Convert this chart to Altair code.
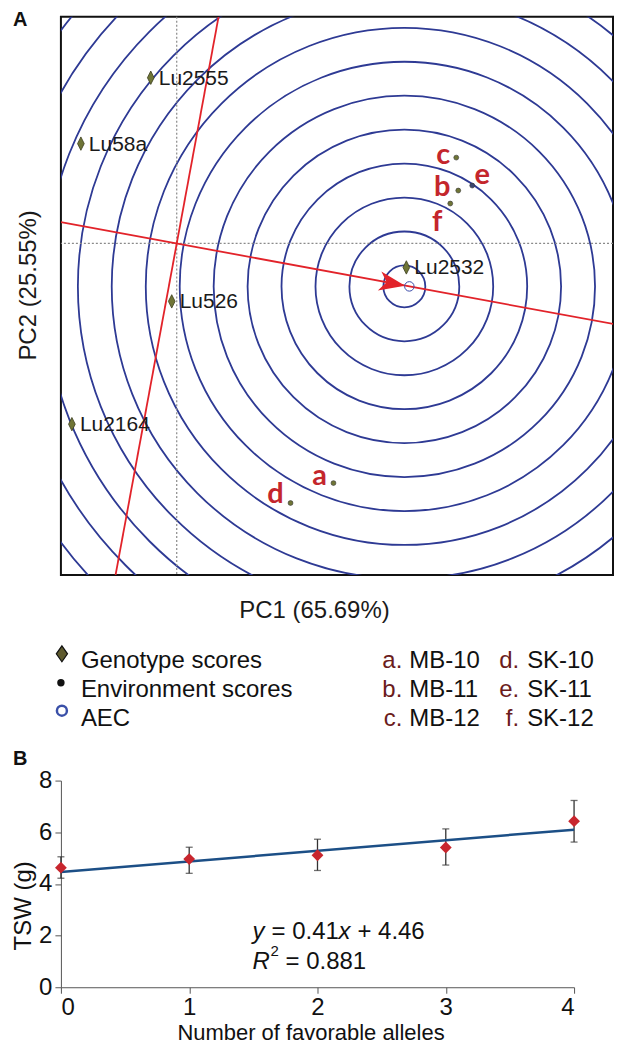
import altair as alt
import pandas as pd

# ---------------- Panel A : GGE biplot ----------------
geno_names = ["Lu2555", "Lu58a", "Lu526", "Lu2164", "Lu2532"]
geno_pc1 = [-0.26, -0.96, -0.05, -1.05, 2.30]
geno_pc2 = [1.66, 1.00, -0.58, -1.81, -0.24]

env_codes = ["a", "b", "c", "d", "e", "f"]
env_names = ["MB-10", "MB-11", "MB-12", "SK-10", "SK-11", "SK-12"]
env_pc1 = [1.57, 2.82, 2.80, 1.14, 2.96, 2.74]
env_pc2 = [-2.40, 0.53, 0.86, -2.60, 0.58, 0.40]

ring_center_pc1 = [2.28]
ring_center_pc2 = [-0.43]
ring_radii = [0.21, 0.55, 0.89, 1.23, 1.57, 1.91, 2.25, 2.59, 2.93, 3.27, 3.61, 3.95, 4.29]

aec_pc1 = [2.33]
aec_pc2 = [-0.43]
arrow_pc1 = [2.16]
arrow_pc2 = [-0.40]

axis_line_x1 = [-1.16, 0.419]
axis_line_y1 = [0.214, 2.27]
axis_line_x2 = [4.45, -0.6125]
axis_line_y2 = [-0.821, -3.32]

legend_left = ["Genotype scores", "Environment scores", "AEC"]
x_title_a = "PC1 (65.69%)"
y_title_a = "PC2 (25.55%)"

# ---------------- Panel B ----------------
alleles = [0, 1, 2, 3, 4]
tsw_mean = [4.63, 4.96, 5.11, 5.41, 6.43]
tsw_low = [4.22, 4.41, 4.52, 4.73, 5.62]
tsw_high = [5.05, 5.42, 5.73, 6.13, 7.23]
fit_x = [0, 4]
fit_y = [4.46, 6.10]

# ---------------- styles ----------------
RING = "#2e3a94"
RED = "#e2232a"
OLIVE = "#6f7536"
LETTER = "#c4262c"
MAROON = "#6b1c1c"
FONT = "Liberation Sans"

W_A, H_A = 553, 559
xs = alt.Scale(domain=[-1.16, 4.37], nice=False, zero=False)
ys = alt.Scale(domain=[-3.32, 2.27], nice=False, zero=False)


def XA(f):
    return alt.X(f, type="quantitative", scale=xs, axis=None)


def YA(f):
    return alt.Y(f, type="quantitative", scale=ys, axis=None)


ONE = alt.Data(values=[{"k": 0}])


def txt(s, x, y, **kw):
    return alt.Chart(ONE).mark_text(text=s, **kw).encode(x=alt.value(x), y=alt.value(y))


def sym(x, y, **kw):
    return alt.Chart(ONE).mark_point(**kw).encode(x=alt.value(x), y=alt.value(y))


rings_df = pd.DataFrame({"cx": ring_center_pc1 * len(ring_radii),
                         "cy": ring_center_pc2 * len(ring_radii),
                         "r": ring_radii})
rings = alt.Chart(rings_df).mark_arc(
    theta=0, theta2=6.2832, fillOpacity=0, stroke=RING, strokeWidth=1.8, clip=True
).encode(
    x=XA("cx"), y=YA("cy"),
    radius=alt.Radius("r:Q", stack=None,
                      scale=alt.Scale(type="linear", domain=[0, 1], range=[0, 100])),
)

dot_v = alt.Chart(pd.DataFrame({"v": [0]})).mark_rule(
    color="#8a8a8a", strokeDash=[2, 2], strokeWidth=1.2).encode(x=XA("v"))
dot_h = alt.Chart(pd.DataFrame({"v": [0]})).mark_rule(
    color="#8a8a8a", strokeDash=[2, 2], strokeWidth=1.2).encode(y=YA("v"))

lines_df = pd.DataFrame({"x": axis_line_x1, "y": axis_line_y1,
                         "x2": axis_line_x2, "y2": axis_line_y2})
red_lines = alt.Chart(lines_df).mark_rule(color=RED, strokeWidth=1.8, clip=True).encode(
    x=XA("x"), y=YA("y"), x2="x2:Q", y2="y2:Q")

arrow = alt.Chart(pd.DataFrame({"x": arrow_pc1, "y": arrow_pc2})).mark_point(
    shape="M1,0L-1,-0.75L-0.45,0L-1,0.75Z", size=676, filled=True, color=RED,
    opacity=1, angle=10.5).encode(x=XA("x"), y=YA("y"))

aec = alt.Chart(pd.DataFrame({"x": aec_pc1, "y": aec_pc2})).mark_point(
    shape="circle", size=90, filled=False, color="#3a4aa8", strokeWidth=1, opacity=1
).encode(x=XA("x"), y=YA("y"))

geno_df = pd.DataFrame({"name": geno_names, "pc1": geno_pc1, "pc2": geno_pc2})
geno_pts = alt.Chart(geno_df).mark_point(
    shape="M0,-1L0.5,0L0,1L-0.5,0Z", size=180, filled=True, fill=OLIVE,
    stroke="#3b3d1d", strokeWidth=0.8, opacity=1).encode(x=XA("pc1"), y=YA("pc2"))
geno_lbl = alt.Chart(geno_df).mark_text(
    align="left", baseline="middle", dx=8, dy=1, fontSize=21, color="#1a1a1a"
).encode(x=XA("pc1"), y=YA("pc2"), text="name:N")

env_df = pd.DataFrame({"code": env_codes, "name": env_names, "pc1": env_pc1, "pc2": env_pc2})
env_pts = alt.Chart(env_df).mark_point(
    shape="circle", size=24, filled=True, stroke="#333333", strokeWidth=0.6, opacity=1
).encode(
    x=XA("pc1"), y=YA("pc2"),
    fill=alt.condition(alt.datum.code == "e", alt.value("#3b466e"), alt.value(OLIVE)),
)

letter_offsets = {"a": (-14, 2), "b": (-16, 5), "c": (-13, 6), "d": (-15, 0),
                  "e": (10, -2), "f": (-13, 28)}
letter_layers = []
for code, (ddx, ddy) in letter_offsets.items():
    letter_layers.append(
        alt.Chart(env_df).transform_filter(alt.datum.code == code).mark_text(
            align="center", baseline="alphabetic", dx=ddx, dy=ddy, fontSize=29,
            font="Lato", fontWeight="bold", color=LETTER
        ).encode(x=XA("pc1"), y=YA("pc2"), text="code:N")
    )

# titles, panel letter, legend
a_text = [
    txt("A", -48, -7, align="left", baseline="top", fontSize=20, fontWeight="bold", color="#111"),
    txt(y_title_a, -32, 269, angle=270, align="center", baseline="middle", fontSize=24, color="#1a1a1a"),
    txt(x_title_a, 254, 602, align="center", baseline="alphabetic", fontSize=24, color="#1a1a1a"),
]
leg_y = [645, 674, 703]
legend = [
    sym(1, 638, shape="M0,-1L0.7,0L0,1L-0.7,0Z", size=256, filled=True, fill="#5e5a2e",
        stroke="#111", strokeWidth=1.2, opacity=1),
    sym(0, 667, shape="circle", size=55, filled=True, color="#111", opacity=1),
    sym(1, 695, shape="circle", size=100, filled=False, color="#3a50a8", strokeWidth=2.5, opacity=1),
]
for i, lab in enumerate(legend_left):
    legend.append(txt(lab, 20, leg_y[i], align="left", fontSize=24, color="#111"))
for i in range(3):
    for col, (lx, nx) in enumerate([(342, 349), (459, 467)]):
        j = col * 3 + i
        legend.append(txt(env_codes[j] + ".", lx, leg_y[i], align="right", fontSize=24, color=MAROON))
        legend.append(txt(env_names[j], nx, leg_y[i], align="left", fontSize=24, color="#111"))

panel_a = alt.layer(
    rings, dot_v, dot_h, red_lines, arrow, aec, geno_pts, env_pts, geno_lbl,
    *letter_layers, *a_text, *legend
).properties(
    width=W_A, height=H_A,
    view=alt.ViewBackground(stroke="#111111", strokeWidth=2),
)

# ---------------- Panel B chart ----------------
W_B, H_B = 514, 207
xb = alt.Scale(domain=[0, 4], nice=False, zero=False)
yb = alt.Scale(domain=[0, 8], nice=False)
x_axis = alt.Axis(values=alleles, format="d", grid=False, tickSize=6, labelFontSize=24,
                  labelPadding=2, labelColor="#111", domainColor="#555", tickColor="#555",
                  title="Number of favorable alleles", titleFontSize=22, titleFontWeight="normal",
                  titleColor="#111", titleX=250, titleY=52, titleAlign="center",
                  titleBaseline="alphabetic")
y_axis = alt.Axis(values=[0, 2, 4, 6, 8], grid=False, tickSize=6, labelFontSize=24,
                  labelPadding=3, labelColor="#111", domainColor="#555", tickColor="#555",
                  title="TSW (g)", titleFontSize=24, titleFontWeight="normal", titleColor="#111",
                  titleAngle=270, titleX=-37, titleY=125, titleAlign="center",
                  titleBaseline="middle")

b_df = pd.DataFrame({"n": alleles, "m": tsw_mean, "lo": tsw_low, "hi": tsw_high})
fit_df = pd.DataFrame({"n": fit_x, "m": fit_y})


def XB(f):
    return alt.X(f, type="quantitative", scale=xb, axis=x_axis)


def YB(f):
    return alt.Y(f, type="quantitative", scale=yb, axis=y_axis)


err = alt.Chart(b_df).mark_rule(color="#333", strokeWidth=1.3).encode(
    x=XB("n"), y=YB("lo"), y2="hi:Q")
cap_lo = alt.Chart(b_df).mark_tick(orient="horizontal", size=7, thickness=1.3, color="#333").encode(
    x=XB("n"), y=YB("lo"))
cap_hi = alt.Chart(b_df).mark_tick(orient="horizontal", size=7, thickness=1.3, color="#333").encode(
    x=XB("n"), y=YB("hi"))
fit = alt.Chart(fit_df).mark_line(color="#1c4f86", strokeWidth=2.5).encode(x=XB("n"), y=YB("m"))
pts_b = alt.Chart(b_df).mark_point(shape="diamond", size=140, filled=True, color="#c8262e",
                                   opacity=1).encode(x=XB("n"), y=YB("m"))

b_text = [
    txt("B", -48, -22, align="left", fontSize=20, fontWeight="bold", color="#111"),
    txt("y", 192, 152, align="left", fontSize=24, fontStyle="italic", color="#111"),
    txt("= 0.41", 211, 152, align="left", fontSize=24, color="#111"),
    txt("x", 278, 152, align="left", fontSize=24, fontStyle="italic", color="#111"),
    txt("+ 4.46", 297, 152, align="left", fontSize=24, color="#111"),
    txt("R", 192, 182, align="left", fontSize=24, fontStyle="italic", color="#111"),
    txt("2", 210, 171, align="left", fontSize=15, color="#111"),
    txt("= 0.881", 225, 182, align="left", fontSize=24, color="#111"),
]

panel_b = alt.layer(err, cap_lo, cap_hi, fit, pts_b, *b_text).properties(width=W_B, height=H_B)

chart = alt.vconcat(
    panel_a, panel_b, spacing=206, bounds="flush",
    padding={"left": 3, "right": 0, "top": 0, "bottom": 0},
).configure(font=FONT).configure_view(stroke="transparent")

chart.save("out.html", embed_options={"renderer": "svg", "actions": False})
